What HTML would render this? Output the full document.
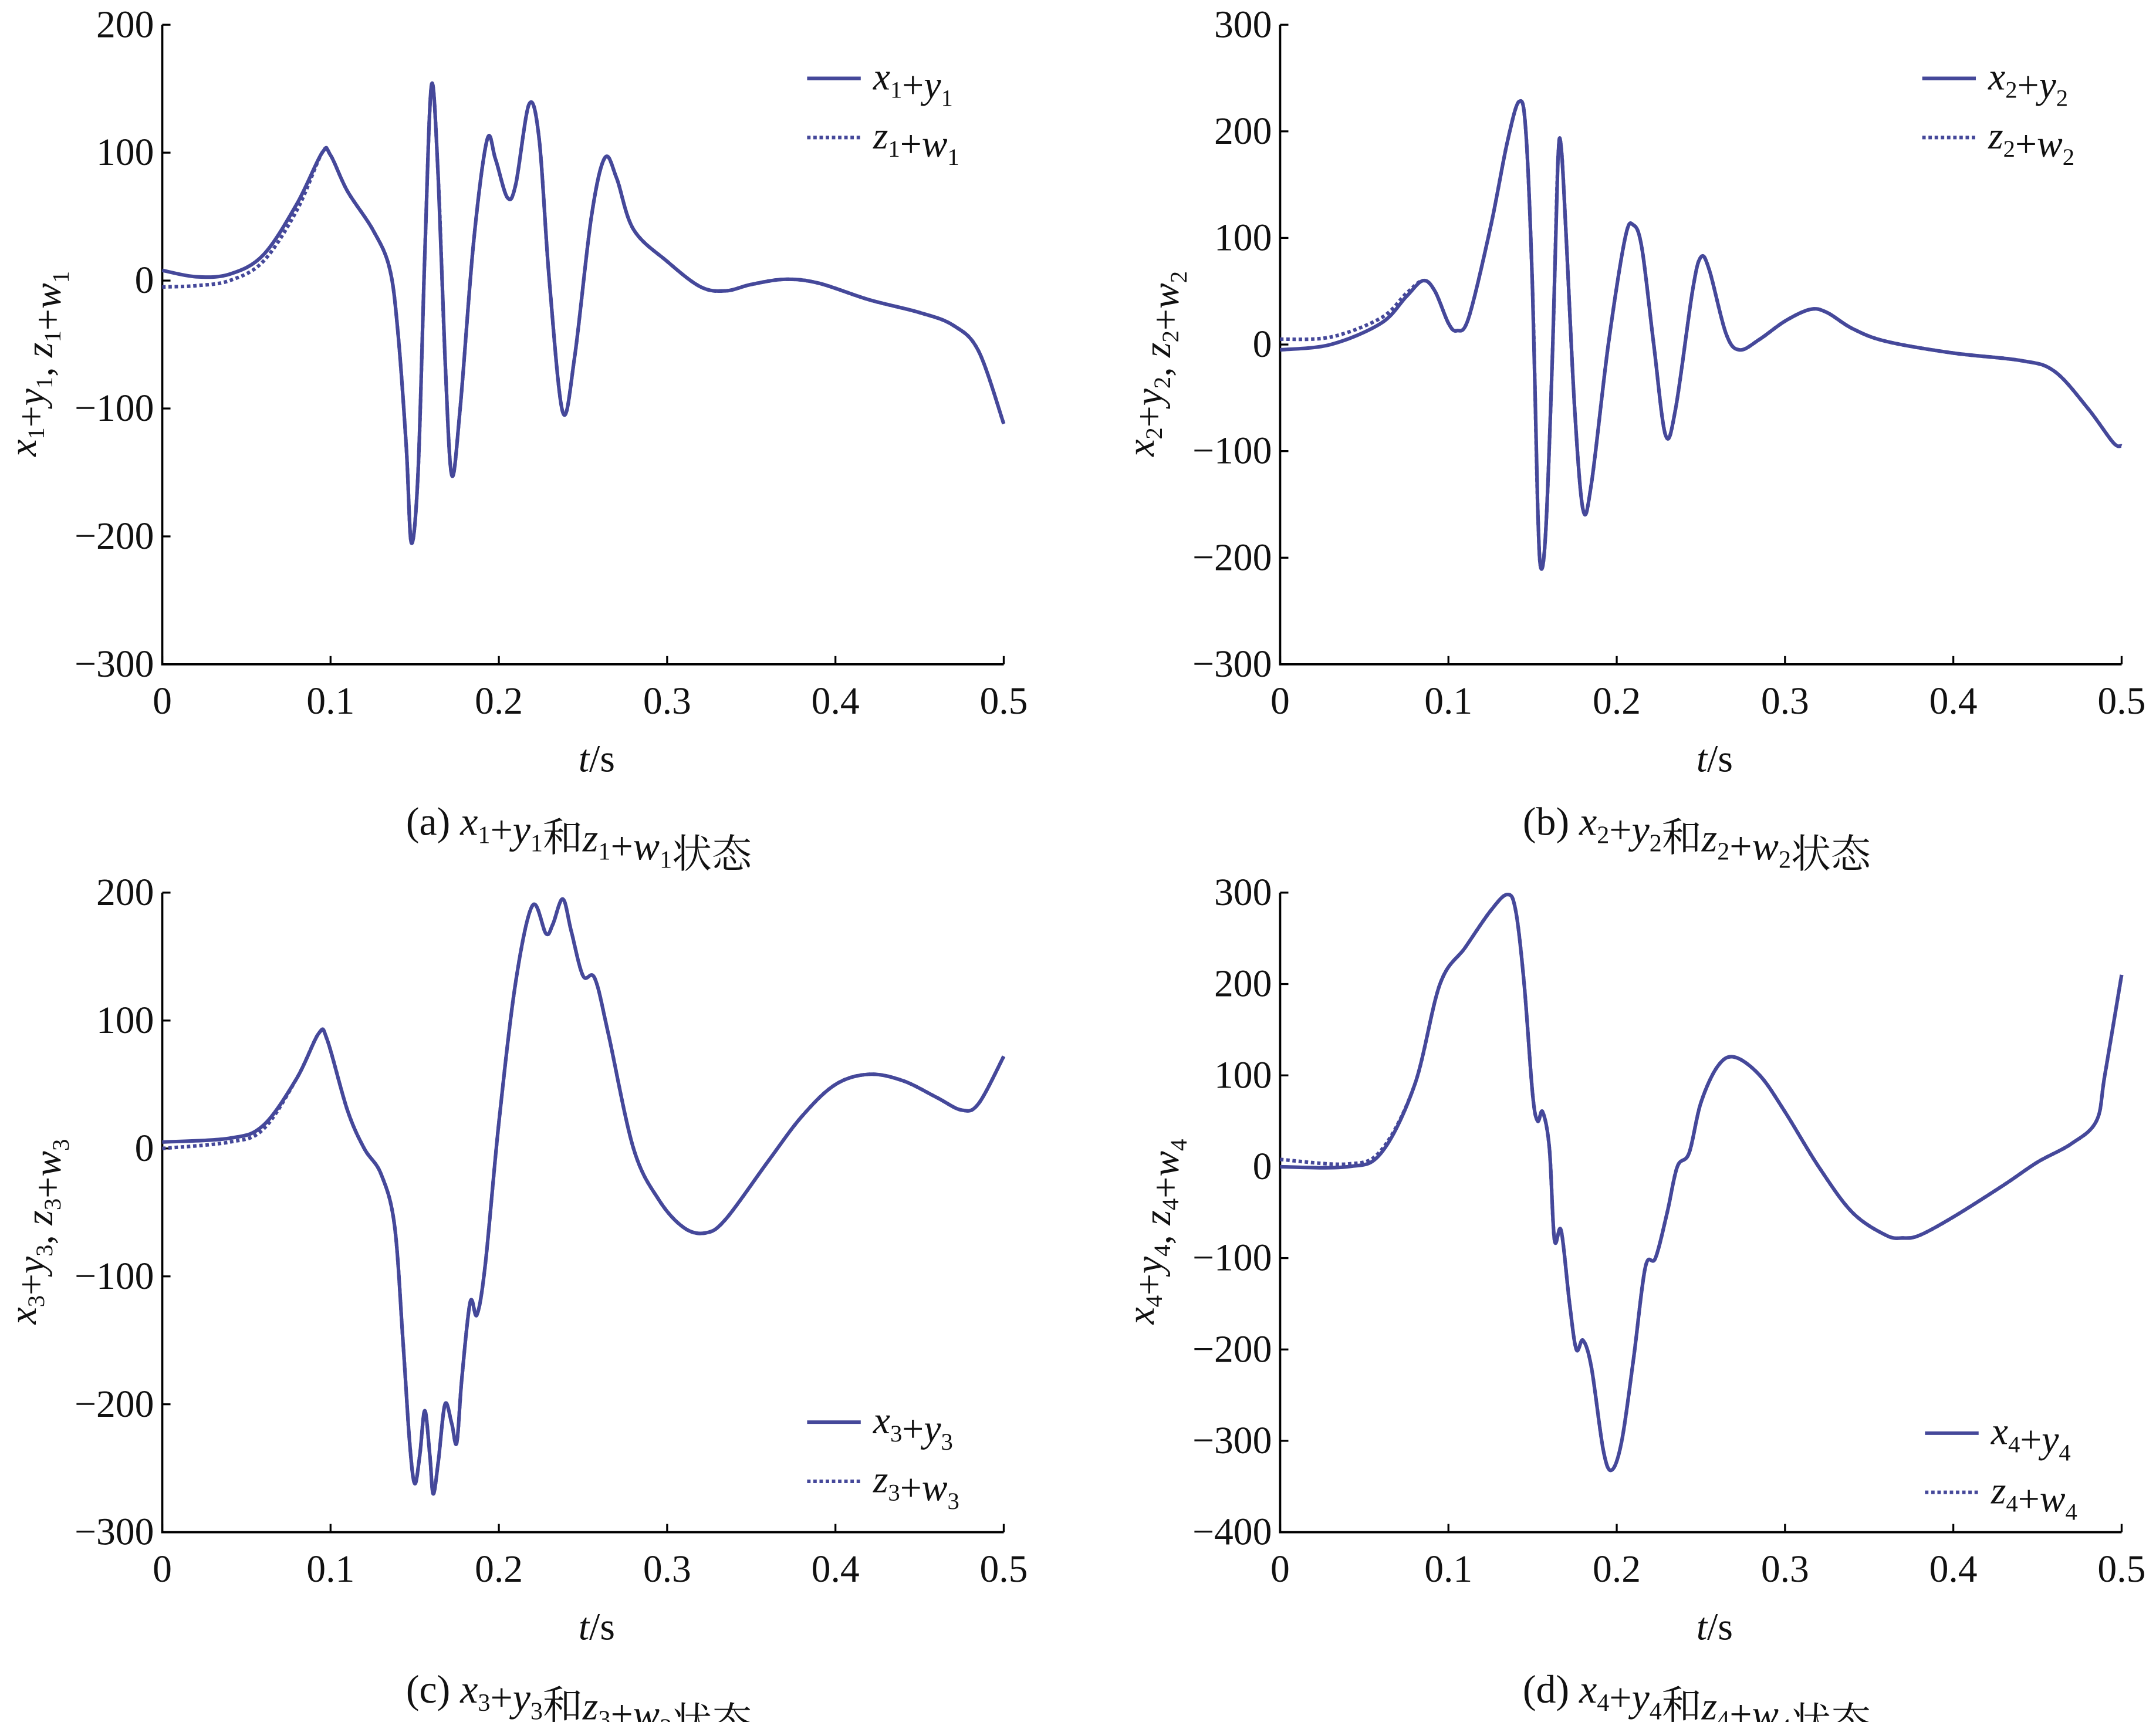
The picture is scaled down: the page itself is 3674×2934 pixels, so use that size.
<!DOCTYPE html>
<html><head><meta charset="utf-8"><style>
html,body{margin:0;padding:0;background:#fff}
svg{display:block}
text{font-family:"Liberation Serif","Noto Serif CJK SC","Noto Sans CJK SC",serif;fill:#111}
</style></head><body>
<svg id="fig" width="3674" height="2934" viewBox="0 0 1568 1252" preserveAspectRatio="none" xmlns="http://www.w3.org/2000/svg"></svg>
<script>
// ---- data (t in s) ----
const tA=[0,0.02,0.04,0.06,0.08,0.095,0.1,0.11,0.125,0.135,0.14,0.145,0.148,0.152,0.156,0.16,0.164,0.168,0.172,0.177,0.185,0.193,0.198,0.205,0.21,0.218,0.224,0.23,0.238,0.245,0.255,0.263,0.27,0.28,0.3,0.32,0.335,0.35,0.37,0.39,0.42,0.45,0.47,0.485,0.5];
const xyA=[8,3,5,20,60,100,98,70,40,10,-40,-130,-205,-150,20,153,80,-60,-152,-100,30,110,95,65,75,138,110,0,-103,-60,50,96,80,40,15,-5,-8,-3,1,-2,-15,-25,-35,-55,-112];
const zwA=[-5,-4,0,15,55,100,98,70,40,10,-40,-130,-205,-150,20,153,80,-60,-152,-100,30,110,95,65,75,138,110,0,-103,-60,50,96,80,40,15,-5,-8,-3,1,-2,-15,-25,-35,-55,-112];

const tB=[0,0.03,0.06,0.075,0.085,0.092,0.1,0.105,0.112,0.125,0.135,0.142,0.146,0.15,0.153,0.155,0.158,0.162,0.165,0.167,0.17,0.175,0.18,0.185,0.195,0.205,0.21,0.215,0.222,0.229,0.235,0.245,0.25,0.255,0.265,0.273,0.285,0.3,0.315,0.325,0.34,0.36,0.4,0.44,0.46,0.48,0.495,0.5];
const xyB=[-5,0,20,45,60,50,20,13,25,110,190,228,200,50,-150,-210,-170,0,170,185,100,-60,-155,-130,0,100,112,90,0,-85,-60,50,82,70,10,-5,5,22,33,30,15,3,-8,-15,-25,-60,-92,-95];
const zwB=[5,7,25,48,60,50,20,13,25,110,190,228,200,50,-150,-210,-170,0,170,185,100,-60,-155,-130,0,100,112,90,0,-85,-60,50,82,70,10,-5,5,22,33,30,15,3,-8,-15,-25,-60,-92,-95];

const tC=[0,0.04,0.06,0.08,0.093,0.098,0.11,0.12,0.13,0.138,0.143,0.147,0.15,0.153,0.156,0.159,0.161,0.164,0.168,0.172,0.175,0.178,0.183,0.187,0.192,0.2,0.21,0.22,0.228,0.232,0.238,0.243,0.25,0.257,0.265,0.28,0.295,0.31,0.323,0.335,0.36,0.38,0.4,0.42,0.44,0.46,0.475,0.485,0.5];
const xyC=[5,8,18,55,90,85,30,0,-20,-60,-150,-230,-262,-240,-205,-240,-270,-245,-200,-215,-230,-180,-120,-130,-90,20,130,190,168,175,195,170,135,133,90,0,-40,-62,-66,-55,-10,25,50,58,53,40,30,35,72];
const zwC=[0,5,15,55,90,85,30,0,-20,-60,-150,-230,-262,-240,-205,-240,-270,-245,-200,-215,-230,-180,-120,-130,-90,20,130,190,168,175,195,170,135,133,90,0,-40,-62,-66,-55,-10,25,50,58,53,40,30,35,72];

const tD=[0,0.04,0.06,0.08,0.095,0.11,0.125,0.135,0.14,0.145,0.15,0.153,0.156,0.16,0.163,0.167,0.172,0.176,0.18,0.185,0.192,0.197,0.203,0.21,0.217,0.223,0.23,0.236,0.243,0.25,0.26,0.27,0.285,0.3,0.32,0.34,0.36,0.37,0.38,0.4,0.43,0.45,0.47,0.485,0.49,0.5];
const xyD=[0,0,15,90,200,240,280,298,280,200,80,50,60,20,-80,-70,-150,-200,-190,-220,-310,-332,-300,-210,-110,-100,-50,0,15,70,110,120,100,60,0,-50,-75,-78,-75,-55,-20,5,25,50,100,210];
const zwD=[8,3,18,90,200,240,280,298,280,200,80,50,60,20,-80,-70,-150,-200,-190,-220,-310,-332,-300,-210,-110,-100,-50,0,15,70,110,120,100,60,0,-50,-75,-78,-75,-55,-20,5,25,50,100,210];

const xTicks=["0","0.1","0.2","0.3","0.4","0.5"];
const yTicksA=[200,100,0,-100,-200,-300];
const yTicksB=[300,200,100,0,-100,-200,-300];
const yTicksD=[300,200,100,0,-100,-200,-300,-400];

const NS="http://www.w3.org/2000/svg";
const svg=document.getElementById('fig');
const COL="#45489a";
function mk(tag,attrs,parent){const e=document.createElementNS(NS,tag);for(const k in attrs)e.setAttribute(k,attrs[k]);(parent||svg).appendChild(e);return e;}
function fmt(v){return v<0?"\u2212"+(-v):String(v);}
function pathFrom(pts){
  let d="M"+pts[0][0].toFixed(2)+","+pts[0][1].toFixed(2);
  for(let i=0;i<pts.length-1;i++){
    const p0=pts[Math.max(0,i-1)],p1=pts[i],p2=pts[i+1],p3=pts[Math.min(pts.length-1,i+2)];
    const c1x=p1[0]+(p2[0]-p0[0])/6,c1y=p1[1]+(p2[1]-p0[1])/6;
    const c2x=p2[0]-(p3[0]-p1[0])/6,c2y=p2[1]-(p3[1]-p1[1])/6;
    d+=" C"+c1x.toFixed(2)+","+c1y.toFixed(2)+" "+c2x.toFixed(2)+","+c2y.toFixed(2)+" "+p2[0].toFixed(2)+","+p2[1].toFixed(2);
  }
  return d;
}
function sub(parent,base,subTxt){
  const t1=mk('tspan',{'font-style':'italic'},parent);t1.textContent=base;
  const t2=mk('tspan',{'font-size':'0.62em','dy':'6'},parent);t2.textContent=subTxt;
  const t3=mk('tspan',{'dy':'-6'},parent);t3.textContent='';
}
function label(parent,n,a,b){ // a_n+b_n
  sub(parent,a,n);
  const p=mk('tspan',{},parent);p.textContent='+';
  sub(parent,b,n);
}
function panel(cfg){
  const g=mk('g',{});
  
  
  const L=cfg.x0,R=cfg.x0+612,T=cfg.y0,B=cfg.y0+465;
  const ymax=cfg.yt[0],ymin=cfg.yt[cfg.yt.length-1];
  const sx=t=>L+(t/0.5)*(R-L);
  const sy=v=>T+(ymax-v)/(ymax-ymin)*(B-T);
  const ax=mk('path',{d:`M${L},${T} L${L},${B} L${R},${B}`,stroke:'#000','stroke-width':1.6,fill:'none'},g);
  
  
  cfg.yt.forEach(v=>{
    const y=sy(v);
    mk('line',{x1:L,x2:L+6,y1:y,y2:y,stroke:'#000','stroke-width':1.4},g);
    const t=mk('text',{x:L-6,y:y+9,'text-anchor':'end','font-size':28},g);
    
    
    t.textContent=fmt(v);
  });
  xTicks.forEach(s=>{
    const x=sx(parseFloat(s));
    mk('line',{x1:x,x2:x,y1:B,y2:B-6,stroke:'#000','stroke-width':1.4},g);
    const t=mk('text',{x:x,y:B+36,'text-anchor':'middle','font-size':28},g);
    
    
    t.textContent=s;
  });
  const xl=mk('text',{x:(L+R)/2+10,y:B+78,'text-anchor':'middle','font-size':28},g);
  
  
  const ti=mk('tspan',{'font-style':'italic'},xl);ti.textContent='t';
  const ts=mk('tspan',{},xl);ts.textContent='/s';
  const yl=mk('text',{transform:`translate(${L-92},${(T+B)/2+14}) rotate(-90)`,'text-anchor':'middle','font-size':28},g);
  
  
  label(yl,cfg.n,'x','y');
  const cm=mk('tspan',{},yl);cm.textContent=', ';
  label(yl,cfg.n,'z','w');
  const cap=mk('text',{x:(L+R)/2-3,y:B+124,'text-anchor':'middle','font-size':29},g);
  
  
  const c0=mk('tspan',{},cap);c0.textContent='('+cfg.id+') ';
  label(cap,cfg.n,'x','y');
  const c1=mk('tspan',{},cap);c1.textContent='和';
  label(cap,cfg.n,'z','w');
  const c2=mk('tspan',{},cap);c2.textContent='状态';
  const dz=mk('path',{d:pathFrom(cfg.t.map((t,i)=>[sx(t),sy(cfg.zw[i])])),stroke:COL,'stroke-width':2.6,fill:'none','stroke-dasharray':'2.5,2'},g);
  
  
  const sl=mk('path',{d:pathFrom(cfg.t.map((t,i)=>[sx(t),sy(cfg.xy[i])])),stroke:COL,'stroke-width':2.6,fill:'none','stroke-linejoin':'round'},g);
  
  
  const lg=mk('g',{},g);
  
  
  const lx=cfg.lx,ly=cfg.ly;
  mk('line',{x1:lx,x2:lx+39,y1:ly,y2:ly,stroke:COL,'stroke-width':2.6},lg);
  mk('line',{x1:lx,x2:lx+39,y1:ly+43,y2:ly+43,stroke:COL,'stroke-width':2.6,'stroke-dasharray':'2.5,2'},lg);
  const e1=mk('text',{x:lx+48,y:ly+8,'font-size':28},lg);
  
  
  label(e1,cfg.n,'x','y');
  const e2=mk('text',{x:lx+48,y:ly+51,'font-size':28},lg);
  
  
  label(e2,cfg.n,'z','w');
}
panel({id:'a',n:'1',x0:118,y0:18,yt:yTicksA,t:tA,xy:xyA,zw:zwA,lx:587,ly:57});
panel({id:'b',n:'2',x0:931,y0:18,yt:yTicksB,t:tB,xy:xyB,zw:zwB,lx:1398,ly:57});
panel({id:'c',n:'3',x0:118,y0:649,yt:yTicksA,t:tC,xy:xyC,zw:zwC,lx:587,ly:1034});
panel({id:'d',n:'4',x0:931,y0:649,yt:yTicksD,t:tD,xy:xyD,zw:zwD,lx:1400,ly:1042});
</script>
</body></html>
